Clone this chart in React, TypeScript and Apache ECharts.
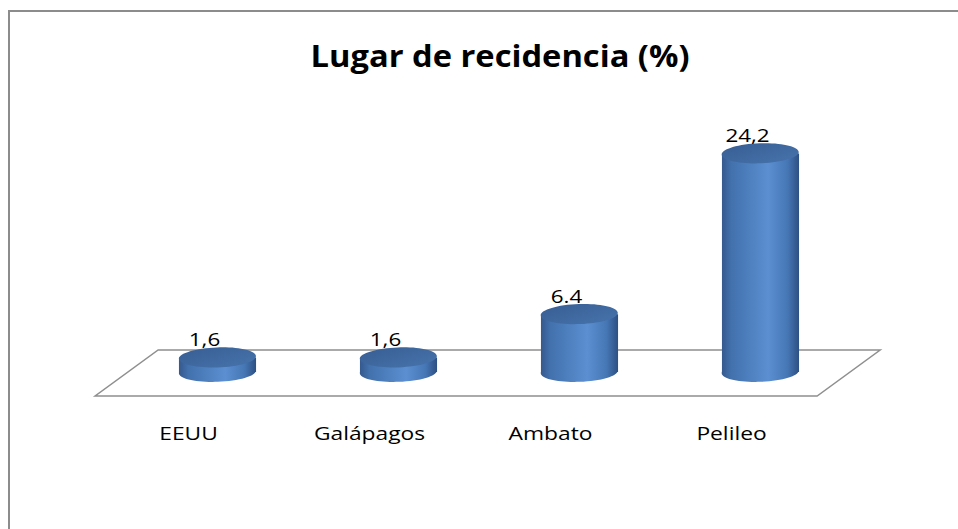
import React, { useEffect, useRef } from "react";
import * as echarts from "echarts";

const categories = ["EEUU", "Galápagos", "Ambato", "Pelileo"];
const values = [1.6, 1.6, 6.4, 24.2];
const valueLabels = ["1,6", "1,6", "6.4", "24,2"];
const titleText = "Lugar de recidencia (%)";

const FONT = "'Open Sans', Lato, sans-serif";

export default function App() {
  const ref = useRef<HTMLDivElement>(null);

  useEffect(() => {
    if (!ref.current) return;
    const chart = echarts.init(ref.current, undefined, { renderer: "svg" });

    const bodyGrad = () =>
      new echarts.graphic.LinearGradient(0, 0, 1, 0, [
        { offset: 0, color: "#35598d" },
        { offset: 0.12, color: "#4271ad" },
        { offset: 0.6, color: "#5b8fd1" },
        { offset: 0.85, color: "#4677b5" },
        { offset: 1, color: "#2d5083" },
      ]);
    const topGrad = () =>
      new echarts.graphic.LinearGradient(0, 0, 1, 1, [
        { offset: 0, color: "#385f94" },
        { offset: 1, color: "#4672ab" },
      ]);

    const option: any = {
      animation: false,
      backgroundColor: "#ffffff",
      grid: { left: 127, right: 107, top: 101, bottom: 157, containLabel: false },
      xAxis: {
        type: "category",
        data: categories,
        axisLine: { show: false },
        axisTick: { show: false },
        splitLine: { show: false },
        axisLabel: { show: false },
      },
      yAxis: {
        type: "value",
        min: 0,
        max: 30,
        show: false,
        splitLine: { show: false },
      },
      graphic: [
        {
          type: "rect",
          shape: { x: 9, y: 11, width: 1000, height: 1000 },
          style: { fill: "none", stroke: "#8c8c8c", lineWidth: 2 },
          silent: true,
          z: -10,
        },
        {
          type: "text",
          x: 500,
          y: 55,
          scaleX: 1.09,
          style: {
            text: titleText,
            fill: "#000000",
            font: `bold 30px ${FONT}`,
            align: "center",
            verticalAlign: "middle",
          },
        },
      ],
      series: [
        {
          type: "custom",
          name: "floor",
          z: 1,
          silent: true,
          data: [[0, 0]],
          renderItem: (params: any, api: any) => {
            const cs = params.coordSys;
            const zeroY = api.coord([0, 0])[1];
            const slope = 63 / 46;
            const backY = zeroY - 22;
            const frontY = zeroY + 24;
            const left = cs.x + 1;
            const right = cs.x + cs.width - 1;
            const pts = [
              [left + slope * (zeroY - backY), backY],
              [right + slope * (zeroY - backY), backY],
              [right + slope * (zeroY - frontY), frontY],
              [left + slope * (zeroY - frontY), frontY],
            ];
            return {
              type: "polygon",
              shape: { points: pts },
              style: { fill: "#ffffff", stroke: "#8f8f8f", lineWidth: 1.5 },
            };
          },
        },
        {
          type: "custom",
          name: "Lugar de recidencia",
          z: 2,
          data: values.map((v, i) => [i, v]),
          renderItem: (params: any, api: any) => {
            const idx = api.value(0);
            const v = api.value(1);
            const top = api.coord([idx, v]);
            const base = api.coord([idx, 0]);
            const bw = api.size([1, 0])[0];
            const rx = bw * 0.213;
            const ry = 10;
            const cx = base[0];
            const rot = 0.035;
            return {
              type: "group",
              children: [
                {
                  type: "ellipse",
                  shape: { cx, cy: base[1], rx, ry },
                  rotation: rot,
                  originX: cx,
                  originY: base[1],
                  style: { fill: bodyGrad() },
                },
                {
                  type: "rect",
                  shape: { x: cx - rx, y: top[1], width: rx * 2, height: base[1] - top[1] },
                  style: { fill: bodyGrad() },
                },
                {
                  type: "ellipse",
                  shape: { cx, cy: top[1], rx, ry },
                  rotation: rot,
                  originX: cx,
                  originY: top[1],
                  style: { fill: topGrad() },
                },
                {
                  type: "text",
                  x: cx - 13,
                  y: top[1] - 19,
                  scaleX: 1.18,
                  style: {
                    text: valueLabels[params.dataIndex],
                    fill: "#000000",
                    font: `19px ${FONT}`,
                    align: "center",
                    verticalAlign: "middle",
                  },
                  z2: 10,
                },
                {
                  type: "text",
                  x: cx - 29,
                  y: base[1] + 61,
                  scaleX: 1.2,
                  style: {
                    text: categories[params.dataIndex],
                    fill: "#000000",
                    font: `19px ${FONT}`,
                    align: "center",
                    verticalAlign: "middle",
                  },
                },
              ],
            };
          },
        },
      ],
    };

    chart.setOption(option);
    return () => chart.dispose();
  }, []);

  return (
    <div
      ref={ref}
      style={{ position: "fixed", left: 0, top: 0, width: 958, height: 529, background: "#fff" }}
    />
  );
}
